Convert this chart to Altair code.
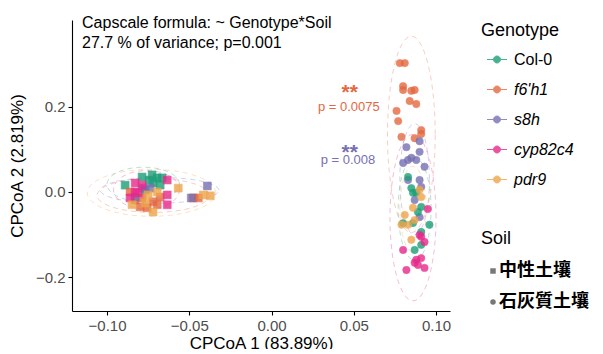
import altair as alt
import pandas as pd
import numpy as np

genotypes = ["Col-0", "f6'h1", "s8h", "cyp82c4", "pdr9"]
colors = ["#1b9e77", "#e4683f", "#7570b3", "#e7298a", "#eea54a"]
soils = ["中性土壤", "石灰質土壤"]
soil_shapes = ["square", "circle"]

# ---- neutral soil (squares) ----
n_col0_x = [-0.0744, -0.0695, -0.0720, -0.0677, -0.0787, -0.0890, -0.0726, -0.0768, -0.0665]
n_col0_y = [0.028, 0.033, 0.021, 0.016, 0.035, 0.016, 0.040, 0.005, 0.033]
n_f6h1_x = [-0.0860, -0.0787, -0.0720, -0.0799, -0.0756, -0.0695, -0.0476, -0.0445, -0.0677, -0.0829]
n_f6h1_y = [0.000, -0.014, -0.023, -0.035, -0.037, -0.030, -0.014, -0.014, -0.012, -0.019]
n_s8h_x = [-0.0390, -0.0488, -0.0780, -0.0829, -0.0738]
n_s8h_y = [0.014, -0.014, 0.009, -0.012, 0.009]
n_cyp_x = [-0.0829, -0.0634, -0.0829, -0.0634, -0.0860, -0.0634, -0.0811, -0.0787]
n_cyp_y = [0.021, 0.028, 0.000, -0.007, -0.014, -0.030, -0.002, 0.016]
n_pdr9_x = [-0.0567, -0.0372, -0.0415, -0.0750, -0.0695, -0.0848, -0.0720, -0.0768]
n_pdr9_y = [0.009, -0.009, -0.007, -0.007, 0.000, -0.030, -0.047, -0.026]

# ---- calcareous soil (circles) ----
c_f6h1_x = [0.078, 0.081, 0.080, 0.080, 0.085, 0.087, 0.084, 0.088, 0.076, 0.077, 0.091, 0.079, 0.087, 0.091]
c_f6h1_y = [0.302, 0.302, 0.248, 0.239, 0.237, 0.239, 0.213, 0.206, 0.190, 0.166, 0.145, 0.129, 0.126, 0.136]
c_s8h_x = [0.090, 0.082, 0.090, 0.083, 0.085, 0.088, 0.080, 0.093, 0.083, 0.090, 0.091, 0.090, 0.087]
c_s8h_y = [0.119, 0.105, 0.094, 0.075, 0.080, 0.075, 0.068, 0.059, 0.028, 0.028, 0.012, -0.059, -0.019]
c_col0_x = [0.083, 0.086, 0.088, 0.091, 0.089, 0.080, 0.086, 0.096, 0.091, 0.087, 0.091, 0.085]
c_col0_y = [0.035, -0.002, -0.002, -0.035, -0.047, -0.073, -0.073, -0.077, -0.094, -0.136, -0.124, 0.009]
c_pdr9_x = [0.091, 0.086, 0.087, 0.083, 0.085, 0.090, 0.081, 0.079]
c_pdr9_y = [-0.012, -0.037, -0.066, -0.077, -0.112, 0.005, -0.054, -0.077]
c_cyp_x = [0.095, 0.091, 0.093, 0.080, 0.088, 0.091, 0.089, 0.093, 0.082, 0.087, 0.090]
c_cyp_y = [-0.040, -0.105, -0.117, -0.136, -0.159, -0.155, -0.171, -0.178, -0.183, -0.166, -0.101]

# ---- dashed ellipses (genotype, centre, semi-axes) ----
ell_geno = ["pdr9", "f6'h1", "s8h", "Col-0", "cyp82c4",
            "f6'h1", "cyp82c4", "s8h", "Col-0", "pdr9"]
ell_cx = [-0.073, -0.072, -0.068, -0.078, -0.076, 0.085, 0.086, 0.087, 0.087, 0.086]
ell_cy = [-0.002, -0.008, 0.004, 0.018, 0.005, 0.135, -0.060, 0.030, -0.040, -0.040]
ell_rx = [0.039, 0.034, 0.036, 0.022, 0.020, 0.0145, 0.014, 0.009, 0.010, 0.008]
ell_ry = [0.055, 0.040, 0.030, 0.040, 0.045, 0.230, 0.195, 0.130, 0.120, 0.100]

# ---- annotations ----
head_text = ["Capscale formula: ~ Genotype*Soil", "27.7 % of variance; p=0.001"]
head_x = [-0.1152, -0.1152]
head_y = [0.396, 0.349]

star_text = ["**", "**"]
star_x = [0.0475, 0.0475]
star_y = [0.232, 0.092]
star_geno = ["f6'h1", "s8h"]

ptext_text = ["p = 0.0075", "p = 0.008"]
ptext_x = [0.0470, 0.0465]
ptext_y = [0.198, 0.076]
ptext_geno = ["f6'h1", "s8h"]

# ---------------- build tables ----------------
groups = [
    ("Col-0", soils[0], n_col0_x, n_col0_y),
    ("f6'h1", soils[0], n_f6h1_x, n_f6h1_y),
    ("s8h", soils[0], n_s8h_x, n_s8h_y),
    ("cyp82c4", soils[0], n_cyp_x, n_cyp_y),
    ("pdr9", soils[0], n_pdr9_x, n_pdr9_y),
    ("f6'h1", soils[1], c_f6h1_x, c_f6h1_y),
    ("s8h", soils[1], c_s8h_x, c_s8h_y),
    ("Col-0", soils[1], c_col0_x, c_col0_y),
    ("pdr9", soils[1], c_pdr9_x, c_pdr9_y),
    ("cyp82c4", soils[1], c_cyp_x, c_cyp_y),
]
rows = []
for g, s, xs, ys in groups:
    for x, y in zip(xs, ys):
        rows.append({"Genotype": g, "Soil": s, "x": x, "y": y})
pts = pd.DataFrame(rows)

t = np.linspace(0, 2 * np.pi, 90)
erows = []
for i, (g, cx, cy, rx, ry) in enumerate(zip(ell_geno, ell_cx, ell_cy, ell_rx, ell_ry)):
    for k, tt in enumerate(t):
        erows.append({"eid": i, "k": k, "Genotype": g,
                      "x": cx + rx * np.cos(tt), "y": cy + ry * np.sin(tt)})
ell = pd.DataFrame(erows)

head = pd.DataFrame({"text": head_text, "x": head_x, "y": head_y})
stars = pd.DataFrame({"text": star_text, "x": star_x, "y": star_y, "Genotype": star_geno})
ptexts = pd.DataFrame({"text": ptext_text, "x": ptext_x, "y": ptext_y, "Genotype": ptext_geno})

FONT = "Liberation Sans"
CJK = "Noto Sans CJK JP"

xscale = alt.Scale(domain=[-0.1213, 0.1085], nice=False, zero=False)
yscale = alt.Scale(domain=[-0.279, 0.403], nice=False, zero=False)
gscale = alt.Scale(domain=genotypes, range=colors)

legend_path = ("M-2.5,0L2.5,0M0.875,0A0.875,0.875,0,1,1,-0.875,0"
               "A0.875,0.875,0,1,1,0.875,0Z")
geno_legend = alt.Legend(
    orient="none", legendX=409, legendY=1.5, title="Genotype",
    titleFontSize=18, titleFont=FONT, titleFontWeight="normal", titleColor="black",
    titlePadding=12, labelFontSize=16, labelFont=FONT, labelColor="black",
    labelFontStyle=alt.ExprRef("datum.label == 'Col-0' ? 'normal' : 'italic'"),
    symbolType=legend_path, symbolSize=64, symbolStrokeWidth=1,
    symbolOffset=8, labelOffset=9, rowPadding=14, symbolOpacity=0.8,
)

x_enc = alt.X("x:Q", scale=xscale, title="CPCoA 1 (83.89%)",
              axis=alt.Axis(values=[-0.10, -0.05, 0.0, 0.05, 0.10], format=".2f"))
y_enc = alt.Y("y:Q", scale=yscale, title="CPCoA 2 (2.819%)",
              axis=alt.Axis(values=[-0.2, 0.0, 0.2], format=".1f"))

ellipses = alt.Chart(ell).mark_line(strokeDash=[5, 4], strokeWidth=1.0, opacity=0.32).encode(
    x=x_enc, y=y_enc,
    stroke=alt.Stroke("Genotype:N", scale=gscale, legend=geno_legend),
    detail="eid:N", order="k:Q",
)

points = alt.Chart(pts).mark_point(filled=True, opacity=0.8, strokeWidth=0.6).encode(
    x=x_enc, y=y_enc,
    fill=alt.Fill("Genotype:N", scale=gscale, legend=geno_legend),
    stroke=alt.Stroke("Genotype:N", scale=gscale, legend=geno_legend),
    shape=alt.Shape("Soil:N", scale=alt.Scale(domain=soils, range=soil_shapes),
                    legend=alt.Legend(
                        orient="none", legendX=409, legendY=210, title="Soil",
                        titleFontSize=18, titleFont=FONT, titleFontWeight="normal",
                        titleColor="black", titlePadding=14,
                        labelFontSize=18, labelFont=CJK, labelFontWeight="bold",
                        labelColor="black", symbolFillColor="#555555",
                        symbolStrokeWidth=0, symbolSize=30, symbolOffset=3,
                        labelOffset=alt.ExprRef("-3"), rowPadding=13)),
    size=alt.condition(alt.datum.Soil == soils[0], alt.value(62), alt.value(55)),
)

head_layer = alt.Chart(head).mark_text(align="left", baseline="middle", font=FONT,
                                       fontSize=16, color="black").encode(
    x=alt.X("x:Q", scale=xscale), y=alt.Y("y:Q", scale=yscale), text="text:N")

star_layer = alt.Chart(stars).mark_text(align="center", baseline="middle", font=FONT,
                                        fontSize=21, fontWeight="bold").encode(
    x=alt.X("x:Q", scale=xscale), y=alt.Y("y:Q", scale=yscale), text="text:N",
    color=alt.Color("Genotype:N", scale=gscale, legend=None),
)

ptext_layer = alt.Chart(ptexts).mark_text(align="center", baseline="middle", font=FONT,
                                          fontSize=13).encode(
    x=alt.X("x:Q", scale=xscale), y=alt.Y("y:Q", scale=yscale), text="text:N",
    color=alt.Color("Genotype:N", scale=gscale, legend=None),
)

chart = alt.layer(ellipses, points, head_layer, star_layer, ptext_layer).properties(
    width=378, height=291,
    autosize=alt.AutoSizeParams(type="none"),
    padding={"left": 64, "top": 12, "right": 145, "bottom": 38},
).configure_view(stroke=None).configure_axis(
    grid=False, domainColor="black", domainWidth=1.1, tickColor="black",
    tickSize=4, tickWidth=1.1, labelFont=FONT, labelFontSize=15, labelColor="#4d4d4d",
    titleFont=FONT, titleFontSize=17, titleFontWeight="normal", titleColor="black",
    labelPadding=3,
).configure_axisY(titlePadding=9).configure_axisX(titlePadding=2)

chart.save("out.html", embed_options={"renderer": "svg", "actions": False})
